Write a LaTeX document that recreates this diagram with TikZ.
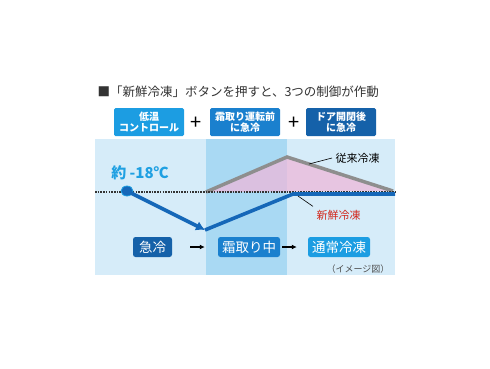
\documentclass[tikz,border=0pt]{standalone}
\usepackage{fontspec}
\setmainfont{Noto Sans CJK JP}
\usepackage{xcolor}
\usetikzlibrary{positioning,arrows.meta,shapes.geometric}

\definecolor{bglight}{HTML}{D6ECF9}
\definecolor{bgband}{HTML}{A9D9F3}
\definecolor{boxone}{HTML}{1C9DE2}
\definecolor{boxtwo}{HTML}{1A80CE}
\definecolor{boxthree}{HTML}{1561A9}
\definecolor{linegray}{HTML}{8E8E8E}
\definecolor{lineblue}{HTML}{1567B8}
\definecolor{tempblue}{HTML}{1FA0E2}
\definecolor{newred}{HTML}{D2291E}
\definecolor{titlegray}{HTML}{333333}
\definecolor{fillpink}{HTML}{EDB8DA}

\begin{document}
\begin{tikzpicture}[x=1pt,y=-1pt,
    ctrlbox/.style={text=white,font=\bfseries\fontsize{10}{11}\selectfont,align=center,
      rounded corners=1.5pt,minimum width=70pt,minimum height=28pt,inner sep=0pt},
    stagebox/.style={text=white,font=\fontsize{13.5}{14}\selectfont,
      rounded corners=2.5pt,minimum height=20pt,inner sep=0pt},
    stagearrow/.style={-{Latex[length=5pt,width=5pt]},line width=1.3pt},
    leader/.style={line width=0.6pt,black}]
			\useasboundingbox (0,0) rectangle (490,368);
			% chart area
			\fill[bglight] (95,139) rectangle (395,275);
			\fill[bgband] (206,139) rectangle (287,275);
			% title and control boxes
			\node[anchor=west,text=titlegray,font=\fontsize{12.5}{14}\selectfont] at (94,92) (title)
			  {■「新鮮冷凍」ボタンを押すと、3つの制御が作動};
			\node[ctrlbox,fill=boxone] at (149,122) (lowtemp) {低温\\コントロール};
			\node[ctrlbox,fill=boxtwo] at (245,122) (predefrost) {霜取り運転前\\に急冷};
			\node[ctrlbox,fill=boxthree] at (341,122) (dooropen) {ドア開閉後\\に急冷};
			\node[font=\fontsize{20}{20}\selectfont] at (196,123) (plusa) {+};
			\node[font=\fontsize{20}{20}\selectfont] at (294,123) (plusb) {+};
			% curves
			\coordinate (gstart) at (206,192);
			\coordinate (gpeak) at (287,157);
			\coordinate (gend) at (393,191);
			\coordinate (blow) at (205,230);
			\coordinate (brise) at (293,194);
			\coordinate (bend) at (395,194);
			\fill[fillpink,opacity=0.75] (gstart) -- (gpeak) -- (gend) -- cycle;
			\draw[linegray,line width=3.5pt,line join=miter] (gstart) -- (gpeak) -- (gend);
			\draw[black!80,line width=2.6pt,dash pattern=on 1.6pt off 1.1pt] (95,192) -- (395,192);
			\node[ellipse,fill=lineblue,draw=tempblue,line width=0.8pt,minimum width=12pt,minimum height=10pt,inner sep=0pt]
			  at (127,191) (dot) {};
			\draw[lineblue,line width=3.6pt,-{Latex[length=9pt,width=10pt]}] (dot.center) -- (blow);
			\draw[lineblue,line width=3.6pt,line join=round] (blow) -- (brise) -- (bend);
			\node[text=tempblue,font=\bfseries\fontsize{15}{16}\selectfont] at (140,173) (temp) {約 -18℃};
			% labels
			\node[anchor=west,font=\fontsize{11}{12}\selectfont] at (332,158) (oldlbl) {従来冷凍};
			\draw[leader] (309,164) -- (oldlbl.west);
			\node[anchor=west,text=newred,font=\fontsize{11}{12}\selectfont] at (313,215) (newlbl) {新鮮冷凍};
			\draw[leader] (298,196) -- (newlbl.north west);
			% stages
			\node[stagebox,fill=boxthree,minimum width=39pt] at (152.5,247) (rapid) {急冷};
			\node[stagebox,fill=boxtwo,minimum width=62pt] at (249,247) (defrost) {霜取り中};
			\node[stagebox,fill=boxone,minimum width=62pt] at (339,247) (normal) {通常冷凍};
			\draw[stagearrow,shorten <=18pt,shorten >=13pt] (rapid.east) -- (defrost.west);
			\draw[stagearrow,shorten <=2pt,shorten >=11pt] (defrost.east) -- (normal.west);
			\node[anchor=east,text=black!70,font=\fontsize{9}{10}\selectfont] at (393,269) (note) {（イメージ図）};
		\end{tikzpicture}
\end{document}
